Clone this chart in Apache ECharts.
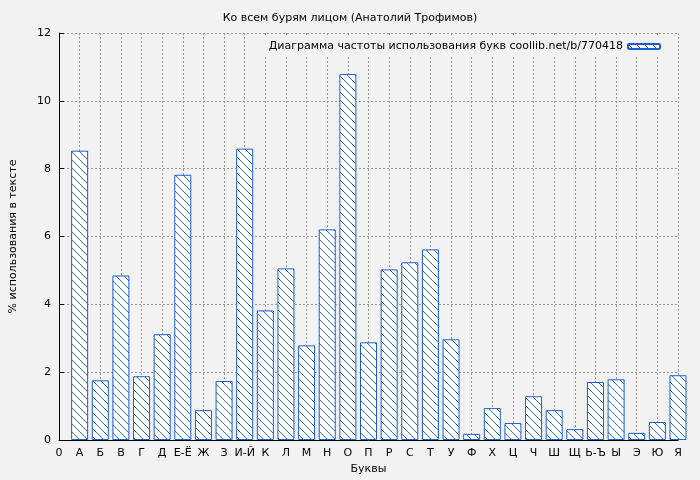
<!DOCTYPE html>
<html><head><meta charset="utf-8">
<script src="https://cdn.jsdelivr.net/npm/echarts@6/dist/echarts.min.js"></script>
<style>html,body{margin:0;padding:0;background:#f2f2f2}#c{width:700px;height:480px}</style>
</head><body><div id="c"></div>
<script>
const categories = ['0','А','Б','В','Г','Д','Е-Ё','Ж','З','И-Й','К','Л','М','Н','О','П','Р','С','Т','У','Ф','Х','Ц','Ч','Ш','Щ','Ь-Ъ','Ы','Э','Ю','Я'];
const values = [null,8.53,1.76,4.85,1.88,3.12,7.82,0.88,1.74,8.59,3.82,5.06,2.79,6.21,10.79,2.88,5.03,5.24,5.62,2.97,0.18,0.94,0.5,1.29,0.88,0.32,1.71,1.79,0.21,0.53,1.91];
const yTicks = [0,2,4,6,8,10,12];

const pc = document.createElement('canvas');
pc.width = 8; pc.height = 8;
const g = pc.getContext('2d');
g.fillStyle = '#ffffff'; g.fillRect(0,0,8,8);
g.strokeStyle = '#1a5fd0'; g.lineWidth = 0.9;
g.beginPath();
g.moveTo(-1,-1); g.lineTo(9,9);
g.moveTo(-5,3); g.lineTo(5,13);
g.moveTo(3,-5); g.lineTo(13,5);
g.stroke();

const chart = echarts.init(document.getElementById('c'));
chart.setOption({
  backgroundColor:'#f2f2f2',
  animation:false,
  textStyle:{fontFamily:'DejaVu Sans'},
  title:{text:'Ко всем бурям лицом (Анатолий Трофимов)',left:'center',top:8,textStyle:{fontSize:11,fontWeight:'normal',color:'#000'}},
  legend:{top:36,right:34,align:'right',itemWidth:32,itemHeight:5,backgroundColor:'#f2f2f2',textStyle:{fontSize:11,color:'#000'},data:['Диаграмма частоты использования букв coollib.net/b/770418']},
  grid:{left:46,right:22,top:33,bottom:40},
  xAxis:{type:'category',data:categories,boundaryGap:false,name:'Буквы',nameLocation:'middle',nameGap:24,nameTextStyle:{fontSize:11,color:'#000'},
    axisLine:{lineStyle:{color:'#000'}},axisTick:{inside:true,lineStyle:{color:'#000'}},axisLabel:{color:'#000',fontSize:11,interval:0},
    splitLine:{show:true,lineStyle:{color:'#999',type:[2,2]}}},
  yAxis:{type:'value',min:0,max:12,interval:2,name:'% использования в тексте',nameLocation:'middle',nameGap:40,nameTextStyle:{fontSize:11,color:'#000'},
    axisLine:{show:true,lineStyle:{color:'#000'}},axisTick:{show:true,inside:true,lineStyle:{color:'#000'}},axisLabel:{color:'#000',fontSize:11,formatter:v=>yTicks.includes(v)?String(v):''},
    splitLine:{lineStyle:{color:'#999',type:[2,2]}}},
  series:[{name:'Диаграмма частоты использования букв coollib.net/b/770418',type:'bar',data:values,barWidth:17,clip:true,
    itemStyle:{color:{image:pc,repeat:'repeat'},borderColor:'#1a5fd0',borderWidth:1}}]
});
</script></body></html>
